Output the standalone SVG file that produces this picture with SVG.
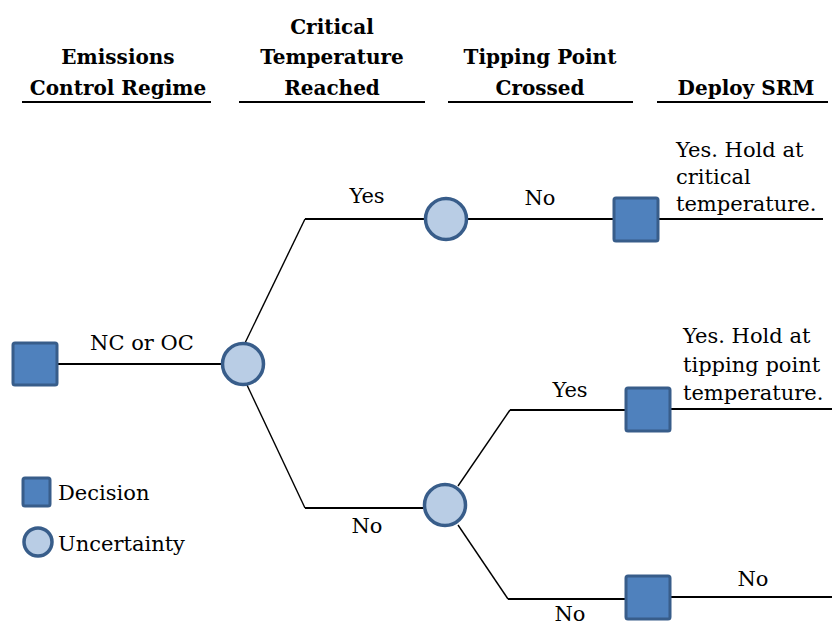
<svg xmlns="http://www.w3.org/2000/svg" width="832" height="627" viewBox="0 0 832 627">
<style>
text{font-family:"DejaVu Serif","Liberation Serif",serif;fill:#000}
.h{font-size:20px;font-weight:bold;text-anchor:middle}
.t{font-size:21px}
.c{text-anchor:middle}
.ul{stroke:#000;stroke-width:2}
.ln{stroke:#000;stroke-width:2;fill:none}
.dg{stroke:#000;stroke-width:1.4;fill:none}
.dec{fill:#4f81bd;stroke:#385d8a;stroke-width:3}
.unc{fill:#b9cde5;stroke:#385d8a;stroke-width:3.5}
</style>
<rect width="832" height="627" fill="#fff"/>
<g id="headers">
<text class="h" x="118" y="64">Emissions</text>
<text class="h" x="118" y="95">Control Regime</text>
<line class="ul" x1="22" y1="102" x2="211" y2="102"/>
<text class="h" x="332" y="34">Critical</text>
<text class="h" x="332" y="64">Temperature</text>
<text class="h" x="332" y="95">Reached</text>
<line class="ul" x1="239" y1="102" x2="425" y2="102"/>
<text class="h" x="540" y="64">Tipping Point</text>
<text class="h" x="540" y="95">Crossed</text>
<line class="ul" x1="448" y1="102" x2="633" y2="102"/>
<text class="h" x="746" y="95">Deploy SRM</text>
<line class="ul" x1="657" y1="102" x2="828" y2="102"/>
</g>
<g id="connectors">
<line class="ln" x1="57" y1="364" x2="222" y2="364"/>
<polyline class="dg" points="245,343 305,219"/>
<line class="ln" x1="305" y1="219" x2="424" y2="219"/>
<line class="ln" x1="467" y1="219" x2="613" y2="219"/>
<line class="ln" x1="658" y1="219" x2="823" y2="219"/>
<polyline class="dg" points="247,385 305,508"/>
<line class="ln" x1="305" y1="508" x2="423" y2="508"/>
<polyline class="dg" points="458,486 510,410"/>
<line class="ln" x1="510" y1="410" x2="625" y2="410"/>
<line class="ln" x1="670" y1="409" x2="832" y2="409"/>
<polyline class="dg" points="458,525 508,599"/>
<line class="ln" x1="508" y1="599" x2="626" y2="599"/>
<line class="ln" x1="670" y1="597" x2="832" y2="597"/>
</g>
<g id="labels">
<text class="t c" x="142" y="350">NC or OC</text>
<text class="t c" x="367" y="203">Yes</text>
<text class="t c" x="540" y="205">No</text>
<text class="t c" x="367" y="533">No</text>
<text class="t c" x="570" y="397">Yes</text>
<text class="t c" x="570" y="621">No</text>
<text class="t c" x="753" y="586">No</text>
<text class="t" x="676" y="157">Yes. Hold at</text>
<text class="t" x="676" y="184">critical</text>
<text class="t" x="676" y="211">temperature.</text>
<text class="t" x="683" y="343">Yes. Hold at</text>
<text class="t" x="683" y="372">tipping point</text>
<text class="t" x="683" y="400">temperature.</text>
</g>
<g id="n-root"><rect class="dec" x="13" y="343" width="44" height="42" rx="2"/></g>
<g id="n-critical"><circle class="unc" cx="243" cy="364" r="20.5"/></g>
<g id="n-tip-upper"><circle class="unc" cx="446" cy="219" r="20.5"/></g>
<g id="n-srm-critical"><rect class="dec" x="614" y="198" width="44" height="43" rx="2"/></g>
<g id="n-tip-lower"><circle class="unc" cx="445" cy="505" r="20.5"/></g>
<g id="n-srm-tipping"><rect class="dec" x="626" y="388" width="44" height="43" rx="2"/></g>
<g id="n-srm-no"><rect class="dec" x="626" y="576" width="44" height="43" rx="2"/></g>
<g id="legend">
<g id="legend-decision"><rect class="dec" x="23" y="478" width="27" height="28" rx="2"/>
<text class="t" x="58" y="500">Decision</text></g>
<g id="legend-uncertainty"><circle class="unc" cx="38" cy="542" r="14"/>
<text class="t" x="58" y="551">Uncertainty</text></g>
</g>
</svg>
